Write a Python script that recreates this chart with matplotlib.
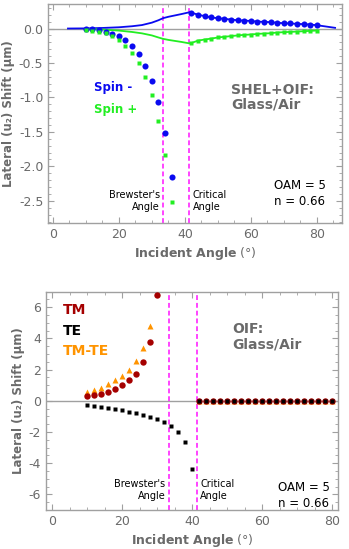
import matplotlib
matplotlib.use('Agg')
import matplotlib.pyplot as plt
from matplotlib.ticker import MultipleLocator

plt.rcParams['font.family'] = ['DejaVu Sans']
plt.rcParams['axes.unicode_minus'] = False
plt.rcParams['mathtext.fontset'] = 'dejavusans'

# ---------------- top panel: SHEL+OIF ----------------
angle_pre      = [10, 12, 14, 16, 18, 20, 22, 24, 26, 28, 30, 32, 34, 36]
spin_minus_pre = [0.0, -0.01, -0.02, -0.05, -0.08, -0.11, -0.17, -0.26, -0.37, -0.54, -0.76, -1.07, -1.52, -2.15]
spin_plus_pre  = [-0.02, -0.03, -0.05, -0.07, -0.11, -0.17, -0.25, -0.35, -0.50, -0.71, -0.97, -1.34, -1.83, -2.52]

angle_post      = [42, 44, 46, 48, 50, 52, 54, 56, 58, 60, 62, 64, 66, 68, 70, 72, 74, 76, 78, 80]
spin_minus_post = [0.23, 0.20, 0.18, 0.16, 0.15, 0.14, 0.13, 0.12, 0.115, 0.11,
                   0.10, 0.097, 0.092, 0.083, 0.077, 0.073, 0.068, 0.063, 0.058, 0.048]
spin_plus_post  = [-0.21, -0.175, -0.16, -0.146, -0.13, -0.12, -0.11, -0.10, -0.092, -0.087,
                   -0.078, -0.073, -0.068, -0.058, -0.053, -0.049, -0.044, -0.039, -0.034, -0.029]

curve_angle_minus = [4.6, 10, 15, 20, 24, 27, 30, 32, 33.4, 35, 37, 39, 41.3]
curve_minus       = [0.0, 0.002, 0.008, 0.018, 0.033, 0.05, 0.085, 0.12, 0.15, 0.17, 0.19, 0.21, 0.235]
curve_angle_plus  = [10, 15, 20, 24, 27, 30, 32, 33.4, 35, 37, 39, 41.3]
curve_plus        = [-0.005, -0.015, -0.03, -0.05, -0.07, -0.10, -0.13, -0.15, -0.165, -0.18, -0.195, -0.215]
tail_angle_minus  = [85.5]
tail_minus        = [0.01]

# ---------------- bottom panel: OIF ----------------
angle_tm   = [10, 12, 14, 16, 18, 20, 22, 24, 26, 28, 30]
tm         = [0.30, 0.36, 0.45, 0.56, 0.75, 0.98, 1.30, 1.72, 2.47, 3.75, 6.77]
angle_tmte = [10, 12, 14, 16, 18, 20, 22, 24, 26, 28]
tmte       = [0.58, 0.68, 0.83, 1.07, 1.30, 1.60, 1.98, 2.53, 3.36, 4.77]
angle_te   = [10, 12, 14, 16, 18, 20, 22, 24, 26, 28, 30, 32, 34, 36, 38, 40]
te         = [-0.28, -0.34, -0.41, -0.48, -0.55, -0.61, -0.70, -0.79, -0.90, -1.03,
              -1.18, -1.37, -1.60, -2.00, -2.65, -4.40]
angle_tir  = [42, 44, 46, 48, 50, 52, 54, 56, 58, 60, 62, 64, 66, 68, 70, 72, 74, 76, 78, 80]
shift_tir  = [0] * len(angle_tir)

brewster = 33.4
critical = 41.3

BLUE   = '#0a0af0'
GREEN  = '#22ee22'
DARKRD = '#a50000'
ORANGE = '#ff9400'
MAGENT = '#ff44ff'
GRAY   = '#6a6a6a'
FRAME  = '#a0a0a0'

fig = plt.figure(figsize=(3.49, 5.49), dpi=100)
ax1 = fig.add_axes([0.138, 0.594, 0.841, 0.398])
ax2 = fig.add_axes([0.132, 0.071, 0.837, 0.398])


def _style(ax):
    for sp in ax.spines.values():
        sp.set_color(FRAME)
        sp.set_linewidth(1.0)
    ax.tick_params(which='both', direction='in', top=True, right=True,
                   colors=FRAME, labelcolor=GRAY, labelsize=9)
    ax.tick_params(which='major', length=4)
    ax.tick_params(which='minor', length=2)
    ax.xaxis.set_major_locator(MultipleLocator(20))
    ax.xaxis.set_minor_locator(MultipleLocator(5))
    ax.axhline(0, color='#a0a0a0', lw=1.0, zorder=1)
    ax.axvline(brewster, color=MAGENT, lw=1.4, ls=(0, (2.5, 1.5)), zorder=2)
    ax.axvline(critical, color=MAGENT, lw=1.4, ls=(0, (2.5, 1.5)), zorder=2)
    ax.set_xlabel(r'$\mathbf{Incident\ Angle}$ (°)', color=GRAY, fontsize=9, labelpad=3)
    ax.set_ylabel('Lateral (u₂) Shift (μm)', color=GRAY, fontsize=8.5,
                  fontweight='bold', labelpad=3)


# ---- top ----
ax1.plot(curve_angle_minus + angle_post + tail_angle_minus,
         curve_minus + spin_minus_post + tail_minus, color=BLUE, lw=1.3, zorder=3)
ax1.plot(curve_angle_plus + angle_post, curve_plus + spin_plus_post,
         color=GREEN, lw=1.3, zorder=3)
ax1.plot(angle_pre + angle_post, spin_minus_pre + spin_minus_post, 'o', color=BLUE,
         ms=4.4, mec='none', zorder=4)
ax1.plot(angle_pre + angle_post, spin_plus_pre + spin_plus_post, 's', color=GREEN,
         ms=3.4, mec='none', zorder=5)
_style(ax1)
ax1.set_xlim(-1.4, 87.5)
ax1.set_ylim(-2.82, 0.35)
ax1.yaxis.set_major_locator(MultipleLocator(0.5))
ax1.yaxis.set_minor_locator(MultipleLocator(0.1))
ax1.yaxis.set_major_formatter(matplotlib.ticker.FormatStrFormatter('%.1f'))

ax1.text(12.5, -0.85, 'Spin -', color=BLUE, fontsize=8.5, fontweight='bold', va='center')
ax1.text(12.5, -1.17, 'Spin +', color=GREEN, fontsize=8.5, fontweight='bold', va='center')
ax1.text(54, -1.0, 'SHEL+OIF:\nGlass/Air', color=GRAY, fontsize=10, fontweight='bold',
         va='center', linespacing=1.1)
ax1.text(67, -2.4, 'OAM = 5\nn = 0.66', color='black', fontsize=8.5, va='center',
         linespacing=1.3)
ax1.text(brewster - 1, -2.5, "Brewster's\nAngle", color='black', fontsize=7, ha='right',
         va='center', linespacing=1.3)
ax1.text(critical + 1, -2.5, 'Critical\nAngle', color='black', fontsize=7, ha='left',
         va='center', linespacing=1.3)

# ---- bottom ----
ax2.plot(angle_tmte, tmte, '^', color=ORANGE, ms=5, mec='none', zorder=4)
ax2.plot(angle_tm, tm, 'o', color=DARKRD, ms=4.6, mec='none', zorder=5)
ax2.plot(angle_te, te, 's', color='black', ms=3.0, mec='none', zorder=6)
ax2.plot(angle_tir, shift_tir, '^', color=ORANGE, ms=5, mec='none', zorder=4)
ax2.plot(angle_tir, shift_tir, 'o', color=DARKRD, ms=4.6, mec='none', zorder=5)
ax2.plot(angle_tir, shift_tir, 's', color='black', ms=3.0, mec='none', zorder=6)
_style(ax2)
ax2.set_xlim(-1.7, 81.7)
ax2.set_ylim(-7, 7)
ax2.yaxis.set_major_locator(MultipleLocator(2))
ax2.yaxis.set_minor_locator(MultipleLocator(0.5))

ax2.text(3.2, 5.8, 'TM', color=DARKRD, fontsize=10, fontweight='bold', va='center')
ax2.text(3.2, 4.5, 'TE', color='black', fontsize=10, fontweight='bold', va='center')
ax2.text(3.2, 3.2, 'TM-TE', color=ORANGE, fontsize=10, fontweight='bold', va='center')
ax2.text(51.5, 4.1, 'OIF:\nGlass/Air', color=GRAY, fontsize=10, fontweight='bold',
         va='center', linespacing=1.1)
ax2.text(64.5, -6.1, 'OAM = 5\nn = 0.66', color='black', fontsize=8.5, va='center',
         linespacing=1.3)
ax2.text(brewster - 1, -5.7, "Brewster's\nAngle", color='black', fontsize=7, ha='right',
         va='center', linespacing=1.3)
ax2.text(critical + 1, -5.7, 'Critical\nAngle', color='black', fontsize=7, ha='left',
         va='center', linespacing=1.3)

fig.savefig('out.png', dpi=100)
